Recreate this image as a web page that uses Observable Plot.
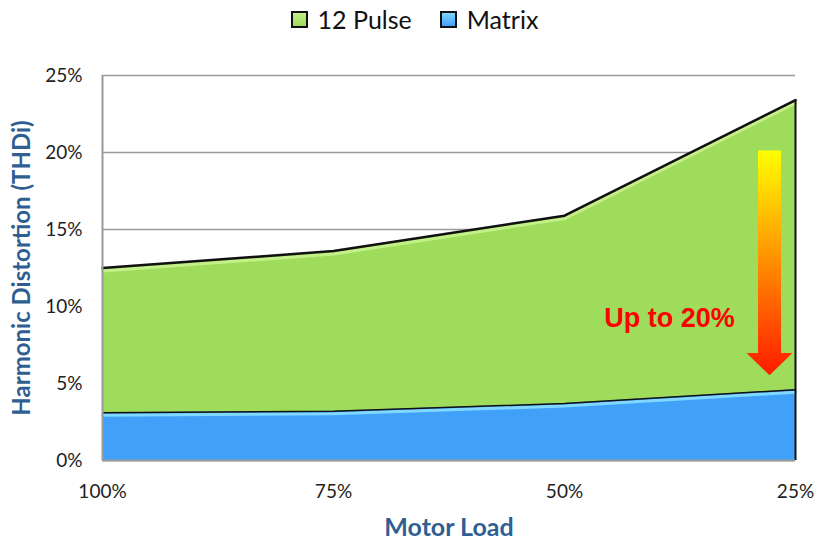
<!DOCTYPE html>
<html><head><meta charset="utf-8">
<script src="https://cdn.jsdelivr.net/npm/d3@7"></script>
<script src="https://cdn.jsdelivr.net/npm/@observablehq/plot@0.6"></script>
<style>
body{margin:0;background:#fff;font-family:Lato,"Open Sans",sans-serif;}
#legend{height:38px;display:flex;justify-content:center;align-items:center;gap:28px;font-size:25px;color:#111;padding-left:12px;box-sizing:border-box;}
#legend span.item{display:flex;align-items:center;gap:10px;}
#legend i{display:inline-block;width:13px;height:13px;border:2px solid #111;}
</style></head>
<body>
<div id="legend"></div>
<div id="chart"></div>
<script>
const loads = ["100%", "75%", "50%", "25%"];
const pulse12 = [12.5, 13.6, 15.9, 23.4];
const matrix = [3.1, 3.2, 3.7, 4.6];
const yTicks = [0, 5, 10, 15, 20, 25];
const seriesNames = ["12 Pulse", "Matrix"];
const seriesColors = ["#9FDC5C", "#41A0F8"];
const highlightColors = ["#C4F08A", "#80D8FF"];
const annotation = "Up to 20%";
const arrowTop = 20.1, arrowHeadTop = 6.95, arrowTip = 5.5;

const rows = [];
seriesNames.forEach((s, si) => {
  const vals = si === 0 ? pulse12 : matrix;
  loads.forEach((l, i) => rows.push({series: s, load: l, value: vals[i]}));
});
const pulseRows = rows.filter(d => d.series === "12 Pulse");
const matrixRows = rows.filter(d => d.series === "Matrix");

// legend
const lg = document.getElementById("legend");
seriesNames.forEach((s, i) => {
  const sp = document.createElement("span"); sp.className = "item";
  const sw = document.createElement("i");
  sw.style.background = `linear-gradient(${highlightColors[i]}, ${seriesColors[i]})`;
  sp.appendChild(sw);
  sp.appendChild(document.createTextNode(s));
  lg.appendChild(sp);
});

function arrowMark(index, scales, values, dims, context) {
  const svgNS = "http://www.w3.org/2000/svg";
  const g = document.createElementNS(svgNS, "g");
  const cx = scales.x("25%") - 25.5;
  const yt = scales.y(arrowTop), yh = scales.y(arrowHeadTop), yb = scales.y(arrowTip);
  const defs = document.createElementNS(svgNS, "defs");
  defs.innerHTML = `<linearGradient id="arrowGrad" gradientUnits="userSpaceOnUse" x1="0" y1="${yt}" x2="0" y2="${yb}">
    <stop offset="0" stop-color="#FFFF00"/><stop offset="0.45" stop-color="#FF9900"/><stop offset="1" stop-color="#FF1A00"/></linearGradient>`;
  g.appendChild(defs);
  const p = document.createElementNS(svgNS, "path");
  const sw = 11.5, hw = 23;
  p.setAttribute("d", `M${cx - sw},${yt}H${cx + sw}V${yh}H${cx + hw}L${cx},${yb}L${cx - hw},${yh}H${cx - sw}Z`);
  p.setAttribute("fill", "url(#arrowGrad)");
  g.appendChild(p);
  return g;
}

const chart = Plot.plot({
  width: 817,
  height: 503,
  marginTop: 37,
  marginBottom: 81,
  marginLeft: 102,
  marginRight: 22,
  style: {fontFamily: "Lato, 'Open Sans', sans-serif", fontSize: "19px", color: "#222", background: "#fff"},
  x: {type: "point", domain: loads, padding: 0, label: null},
  y: {domain: [0, 25], label: null},
  marks: [
    Plot.gridY(yTicks, {stroke: "#9a9a9a", strokeOpacity: 1, strokeWidth: 1.5}),
    Plot.areaY(pulseRows, {x: "load", y: "value", fill: seriesColors[0]}),
    Plot.lineY(pulseRows, {x: "load", y: "value", stroke: highlightColors[0], strokeWidth: 3, dy: 3}),
    Plot.lineY(pulseRows, {x: "load", y: "value", stroke: "#111", strokeWidth: 2.5}),
    Plot.areaY(matrixRows, {x: "load", y: "value", fill: seriesColors[1]}),
    Plot.lineY(matrixRows, {x: "load", y: "value", stroke: highlightColors[1], strokeWidth: 3, dy: 2.5}),
    Plot.lineY(matrixRows, {x: "load", y: "value", stroke: "#111", strokeWidth: 1.5}),
    Plot.ruleX(["25%"], {x: d => d, y1: 0, y2: pulse12[pulse12.length - 1], stroke: "#111", strokeWidth: 2}),
    Plot.ruleX(["100%"], {x: d => d, y1: 0, y2: 25, stroke: "#9a9a9a", strokeWidth: 2}),
    Plot.ruleY([0], {stroke: "#9a9a9a", strokeWidth: 2}),
    arrowMark,
    Plot.text([annotation], {x: () => "25%", y: () => 9.2, dx: -126, text: d => d, fill: "#FF0000", fontSize: 27, fontWeight: "bold", fontFamily: "'Liberation Sans', Arial, sans-serif", textAnchor: "middle"}),
    Plot.axisY(yTicks, {tickFormat: d => d + "%", tickSize: 0, tickPadding: 20, label: null, fontSize: 19, fill: "#222"}),
    Plot.axisX(loads, {tickSize: 0, tickPadding: 24, label: null, fontSize: 19, fill: "#222"}),
    Plot.text(["Harmonic Distortion (THDi)"], {frameAnchor: "left", rotate: -90, dx: -80, textAnchor: "middle", text: d => d, fill: "#2F5F92", fontSize: 24, fontWeight: "bold"}),
    Plot.text(["Motor Load"], {frameAnchor: "bottom", dy: 75, text: d => d, fill: "#2F5F92", fontSize: 25, fontWeight: "bold"})
  ]
});
document.getElementById("chart").appendChild(chart);
</script>
</body></html>
